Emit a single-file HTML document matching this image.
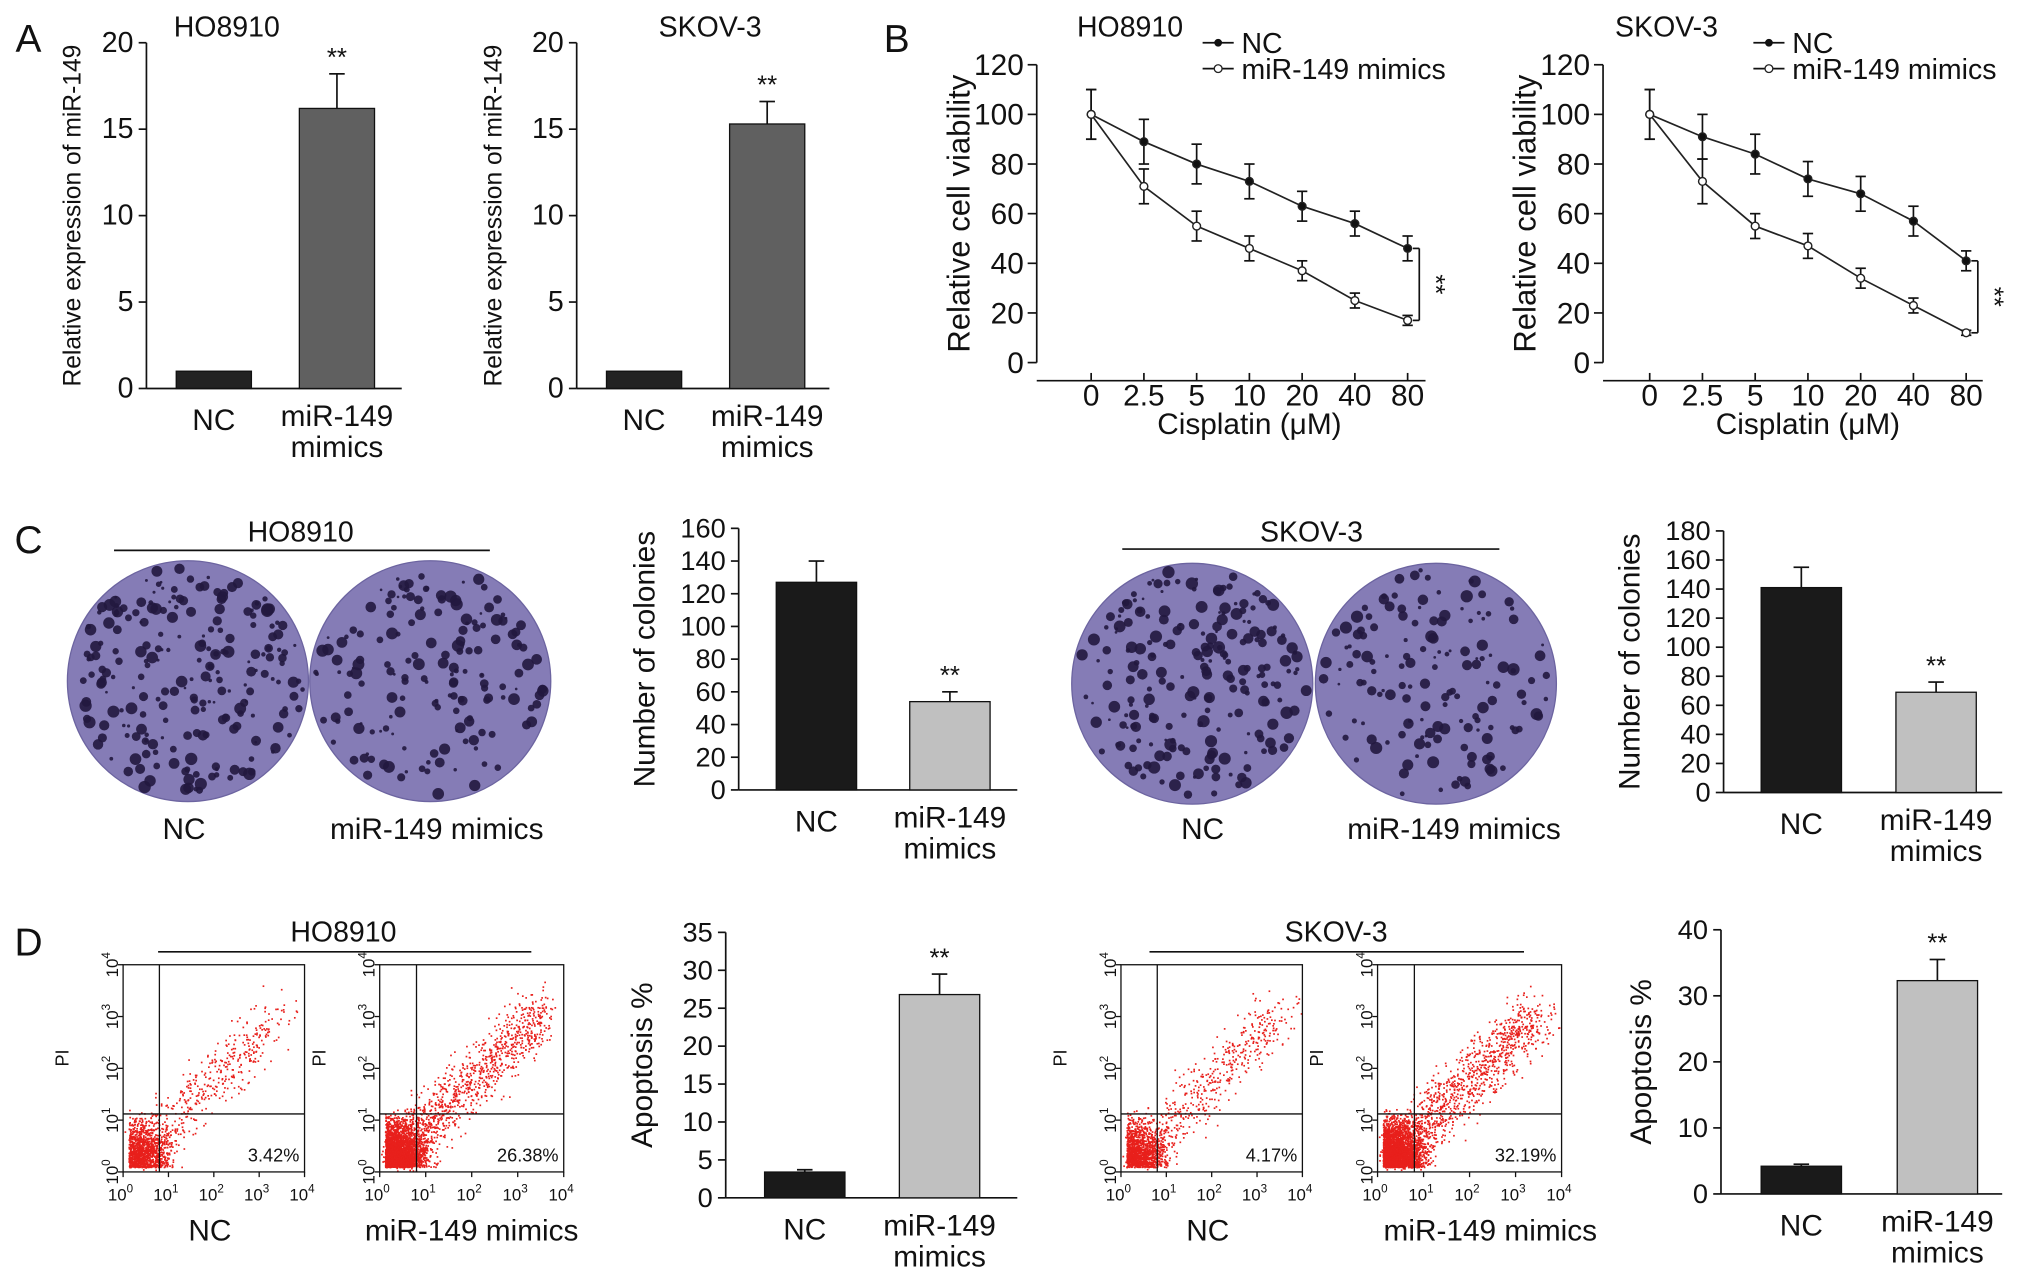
<!DOCTYPE html>
<html><head><meta charset="utf-8"><style>
html,body{margin:0;padding:0;background:#fff}
svg{display:block;font-family:"Liberation Sans",Arial,sans-serif}
</style></head><body>
<svg id="fig" width="2032" height="1282" viewBox="0 0 1568 990" preserveAspectRatio="none" xmlns="http://www.w3.org/2000/svg">
<g id="root"></g>
</svg>
<script>
// ===== DATA =====
const barCats = ["NC", "miR-149 mimics"];
const aHOvals = [1.0, 16.2];   const aHOerr = [0, 2.0];
const aSKvals = [1.0, 15.3];   const aSKerr = [0, 1.3];
const aTicks = [0, 5, 10, 15, 20];
const doses = ["0", "2.5", "5", "10", "20", "40", "80"];
const bHO_NC = [100, 89, 80, 73, 63, 56, 46];
const bHO_NCerr = [10, 9, 8, 7, 6, 5, 5];
const bHO_MI = [100, 71, 55, 46, 37, 25, 17];
const bHO_MIerr = [10, 7, 6, 5, 4, 3, 2];
const bSK_NC = [100, 91, 84, 74, 68, 57, 41];
const bSK_NCerr = [10, 9, 8, 7, 7, 6, 4];
const bSK_MI = [100, 73, 55, 47, 34, 23, 12];
const bSK_MIerr = [10, 9, 5, 5, 4, 3, 1];
const bTicks = [0, 20, 40, 60, 80, 100, 120];
const cHOvals = [127, 54]; const cHOerr = [13, 6];
const cSKvals = [141, 69]; const cSKerr = [14, 7];
const cHOticks = [0,20,40,60,80,100,120,140,160];
const cSKticks = [0,20,40,60,80,100,120,140,160,180];
const dHOvals = [3.4, 26.8]; const dHOerr = [0.3, 2.7];
const dSKvals = [4.2, 32.3]; const dSKerr = [0.3, 3.2];
const dHOticks = [0,5,10,15,20,25,30,35];
const dSKticks = [0,10,20,30,40];
const flowPct = ["3.42%", "26.38%", "4.17%", "32.19%"];

const NS = "http://www.w3.org/2000/svg";
const root = document.getElementById("root");
function el(tag, attrs, parent, text){
  const e = document.createElementNS(NS, tag);
  for (const k in attrs) e.setAttribute(k, attrs[k]);
  if (text !== undefined) e.textContent = text;
  (parent || root).appendChild(e);
  return e;
}
function txt(x,y,s,size,name,extra){
  const t = el("text", Object.assign({x:x,y:y,"font-size":size,"text-anchor":"middle",fill:"#111"}, extra||{}), root, s);
  
  
  return t;
}
function line(x1,y1,x2,y2,name,w){
  const l = el("line",{x1:x1,y1:y1,x2:x2,y2:y2,stroke:"#111","stroke-width":w||1.3});
  
  
  return l;
}

// ===== BAR CHART =====
function barChart(o){
  const max = o.ticks[o.ticks.length-1];
  const ys = v => o.y0 - (v/max)*(o.y0-o.y1);
  line(o.ax, o.y1, o.ax, o.y0, "y-axis");
  line(o.ax, o.y0, o.xEnd, o.y0, "x-axis");
  o.ticks.forEach(t=>{
    line(o.ax-6, ys(t), o.ax, ys(t), "y-tick");
    txt(o.ax-10, ys(t)+7, String(t), o.tickSize||21, "y-tick-label", {"text-anchor":"end"});
  });
  txt(o.titleX, (o.y0+o.y1)/2, o.ylabel, o.ylabelSize||22, "y-axis-title",
      {transform:"rotate(-90 "+o.titleX+" "+(o.y0+o.y1)/2+")"});
  o.vals.forEach((v,i)=>{
    const cx = o.centers[i], w = o.w;
    const top = ys(v);
    if (o.err[i] > 0){
      const et = ys(v+o.err[i]);
      line(cx, top, cx, et, "error-bar");
      line(cx-6, et, cx+6, et, "error-cap");
    }
    const r = el("rect",{x:cx-w/2,y:top,width:w,height:o.y0-top,fill:o.colors[i],stroke:"#111","stroke-width":1});
    
    
    if (i===1) txt(cx, ys(v+o.err[i]) - 6, "**", 20, "significance-stars");
  });
  txt(o.centers[0], o.y0+32, barCats[0], 23, "x-label-nc");
  txt(o.centers[1], o.y0+29, "miR-149", 23, "x-label-mimics");
  txt(o.centers[1], o.y0+53, "mimics", 23, "x-label-mimics-2");
}

// ===== LINE CHART =====
function lineChart(o){
  const max = 120;
  const ys = v => o.y0 - (v/max)*(o.y0-o.y1);
  const xs = i => o.x0 + i*o.dx;
  line(o.ax, o.y1, o.ax, o.y0, "y-axis");
  line(o.ax, o.y0+14, o.xEnd, o.y0+14, "x-axis");
  bTicks.forEach(t=>{
    line(o.ax-7, ys(t), o.ax, ys(t), "y-tick");
    txt(o.ax-10, ys(t)+8, String(t), 23, "y-tick-label", {"text-anchor":"end"});
  });
  doses.forEach((d,i)=>{
    line(xs(i), o.y0+14, xs(i), o.y0+8, "x-tick");
    txt(xs(i), o.y0+33, d, 23, "x-tick-label");
  });
  txt((o.x0+xs(6))/2, o.y0+55, "Cisplatin (μM)", 23, "x-axis-title");
  const tx = o.ax-52, ty=(o.y1+o.y0)/2;
  txt(tx, ty, "Relative cell viability", 24, "y-axis-title", {transform:"rotate(-90 "+tx+" "+ty+")"});
  [[o.nc,o.ncErr,"#111","nc"],[o.mi,o.miErr,"#fff","mimics"]].forEach(([vals,err,fill,nm])=>{
    const p = el("polyline",{points:vals.map((v,i)=>xs(i)+","+ys(v)).join(" "),fill:"none",stroke:"#222","stroke-width":1.3});
    
    
    vals.forEach((v,i)=>{
      const up = ys(v+err[i]), dn = ys(v-err[i]);
      line(xs(i), up, xs(i), dn, "error-bar");
      line(xs(i)-4, up, xs(i)+4, up, "error-cap");
      line(xs(i)-4, dn, xs(i)+4, dn, "error-cap");
      const c = el("circle",{cx:xs(i),cy:ys(v),r:3,fill:fill,stroke:"#222","stroke-width":1.1});
      
      
    });
  });
  const bx = xs(6)+9, a = ys(o.nc[6]), b = ys(o.mi[6]);
  line(xs(6)+4,a,bx,a,"bracket"); line(bx,a,bx,b,"bracket"); line(xs(6)+4,b,bx,b,"bracket");
  txt(bx+6, (a+b)/2, "**", 20, "significance-stars", {transform:"rotate(90 "+(bx+6)+" "+((a+b)/2)+")"});
  line(o.legX-12, o.legY, o.legX+12, o.legY, "legend-line-nc");
  let c1 = el("circle",{cx:o.legX,cy:o.legY,r:3,fill:"#111"});  
  txt(o.legX+18, o.legY+8, "NC", 22, "legend-entry-nc", {"text-anchor":"start"});
  line(o.legX-12, o.legY+20, o.legX+12, o.legY+20, "legend-line-mimics");
  let c2 = el("circle",{cx:o.legX,cy:o.legY+20,r:3,fill:"#fff",stroke:"#222"});  
  txt(o.legX+18, o.legY+28, "miR-149 mimics", 22, "legend-entry-mimics", {"text-anchor":"start"});
}

// seeded decoration RNG (images only, not data)
let seed = 7;
function rnd(){ seed = (seed*16807) % 2147483647; return (seed-1)/2147483646; }
function gauss(){ return (rnd()+rnd()+rnd()-1.5)/1.5; }

function plate(cx,cy,r,n,name){
  const c = el("circle",{cx:cx,cy:cy,r:r,fill:"#857cb6",stroke:"#6c64a0","stroke-width":1});
  
  
  const g = el("g",{});
  
  
  for (let i=0;i<n;i++){
    const a = rnd()*Math.PI*2, d = Math.sqrt(rnd())*(r-4);
    el("circle",{cx:cx+Math.cos(a)*d,cy:cy+Math.sin(a)*d,r:1+rnd()*3.8,fill:"#22183f","fill-opacity":0.9},g);
  }
}

function flow(x0,y0,w,h,pct,nDots,spread,name){
  const g = el("g",{});
  
  
  const dots = el("g",{fill:"#e8201c"},g);
  const qx = x0 + w*0.2, qy = y0 + h*0.72;
  for (let i=0;i<nDots;i++){
    let x,y;
    if (rnd() < 0.7){ x = x0+4+Math.abs(gauss())*w*0.3; y = y0+h-4-Math.abs(gauss())*h*0.3; }
    else { const t = rnd()*spread; x = x0+10+t*w*0.85+gauss()*28; y = y0+h-10-t*h*0.75+gauss()*32; }
    if (x<x0+1||x>x0+w-1||y<y0+1||y>y0+h-1) continue;
    el("rect",{x:x,y:y,width:1.3,height:1.3},dots);
  }
  el("rect",{x:x0,y:y0,width:w,height:h,fill:"none",stroke:"#111","stroke-width":1},g);
  line(qx,y0,qx,y0+h,"quadrant-line",1);
  line(x0,qy,x0+w,qy,"quadrant-line",1);
  for (let k=0;k<=4;k++){
    const xx = x0 + k*w/4, yy = y0+h - k*h/4;
    line(xx,y0+h,xx,y0+h+4,"x-tick",1);
    line(x0-4,yy,x0,yy,"y-tick",1);
    const tl = txt(xx-2, y0+h+22, "10", 13, "x-tick-label");
    el("tspan",{dy:-6,"font-size":9},tl,String(k));
    const yl = txt(x0-8, yy+4, "10", 13, "y-tick-label", {transform:"rotate(-90 "+(x0-8)+" "+(yy)+")"});
    el("tspan",{dy:-6,"font-size":9},yl,String(k));
  }
  txt(x0-42, y0+h*0.45, "PI", 14, "y-axis-title", {transform:"rotate(-90 "+(x0-42)+" "+(y0+h*0.45)+")"});
  txt(x0+w-4, y0+h-8, pct, 14, "apoptosis-percent", {"text-anchor":"end"});
}

// ===== PANEL LETTERS =====
txt(22,40,"A",30,"panel-letter-a"); txt(692,40,"B",30,"panel-letter-b");
txt(22,427,"C",30,"panel-letter-c"); txt(22,738,"D",30,"panel-letter-d");

// ===== A =====
txt(175,28,"HO8910",22,"title-a-ho8910");
barChart({name:"chart-a-ho8910",ax:113,y0:300,y1:33,xEnd:310,ticks:aTicks,vals:aHOvals,err:aHOerr,
  centers:[165,260],w:58,colors:["#222","#606060"],ylabel:"Relative expression of miR-149",titleX:62,ylabelSize:19,tickSize:22});
txt(548,28,"SKOV-3",22,"title-a-skov3");
barChart({name:"chart-a-skov3",ax:445,y0:300,y1:33,xEnd:640,ticks:aTicks,vals:aSKvals,err:aSKerr,
  centers:[497,592],w:58,colors:["#222","#606060"],ylabel:"Relative expression of miR-149",titleX:387,ylabelSize:19,tickSize:22});

// ===== B =====
txt(872,28,"HO8910",22,"title-b-ho8910");
lineChart({ax:800,y0:280,y1:50,x0:842,dx:40.7,xEnd:1100,nc:bHO_NC,ncErr:bHO_NCerr,mi:bHO_MI,miErr:bHO_MIerr,legX:940,legY:33});
txt(1286,28,"SKOV-3",22,"title-b-skov3");
lineChart({ax:1237,y0:280,y1:50,x0:1273,dx:40.7,xEnd:1530,nc:bSK_NC,ncErr:bSK_NCerr,mi:bSK_MI,miErr:bSK_MIerr,legX:1365,legY:33});

// ===== C =====
txt(232,418,"HO8910",22,"title-c-ho8910"); line(88,425,378,425,"title-line");
plate(145,526,93,230,"plate-ho8910-nc"); plate(332,526,93,170,"plate-ho8910-mimics");
txt(142,648,"NC",23,"label-plate-nc"); txt(337,648,"miR-149 mimics",23,"label-plate-mimics");
barChart({name:"chart-c-ho8910",ax:570,y0:610,y1:408,xEnd:785,ticks:cHOticks,vals:cHOvals,err:cHOerr,
  centers:[630,733],w:62,colors:["#1a1a1a","#c0c0c0"],ylabel:"Number of colonies",titleX:505,ylabelSize:23});
txt(1012,418,"SKOV-3",22,"title-c-skov3"); line(866,424,1157,424,"title-line");
plate(920,528,93,220,"plate-skov3-nc"); plate(1108,528,93,150,"plate-skov3-mimics");
txt(928,648,"NC",23,"label-plate-nc"); txt(1122,648,"miR-149 mimics",23,"label-plate-mimics");
barChart({name:"chart-c-skov3",ax:1330,y0:612,y1:410,xEnd:1545,ticks:cSKticks,vals:cSKvals,err:cSKerr,
  centers:[1390,1494],w:62,colors:["#1a1a1a","#c0c0c0"],ylabel:"Number of colonies",titleX:1265,ylabelSize:23});

// ===== D =====
txt(265,727,"HO8910",22,"title-d-ho8910"); line(122,735,410,735,"title-line");
flow(95,745,140,160,flowPct[0],1600,0.95,"flow-ho8910-nc");
flow(293,745,142,160,flowPct[1],3600,0.95,"flow-ho8910-mimics");
txt(162,958,"NC",23,"label-flow-nc"); txt(364,958,"miR-149 mimics",23,"label-flow-mimics");
barChart({name:"chart-d-ho8910",ax:560,y0:925,y1:720,xEnd:785,ticks:dHOticks,vals:dHOvals,err:dHOerr,
  centers:[621,725],w:62,colors:["#1a1a1a","#c0c0c0"],ylabel:"Apoptosis %",titleX:503,ylabelSize:23});
txt(1031,727,"SKOV-3",22,"title-d-skov3"); line(887,735,1176,735,"title-line");
flow(865,745,140,160,flowPct[2],1700,0.95,"flow-skov3-nc");
flow(1063,745,142,160,flowPct[3],3800,0.95,"flow-skov3-mimics");
txt(932,958,"NC",23,"label-flow-nc"); txt(1150,958,"miR-149 mimics",23,"label-flow-mimics");
barChart({name:"chart-d-skov3",ax:1328,y0:922,y1:718,xEnd:1545,ticks:dSKticks,vals:dSKvals,err:dSKerr,
  centers:[1390,1495],w:62,colors:["#1a1a1a","#c0c0c0"],ylabel:"Apoptosis %",titleX:1274,ylabelSize:23});
</script>
</body></html>
